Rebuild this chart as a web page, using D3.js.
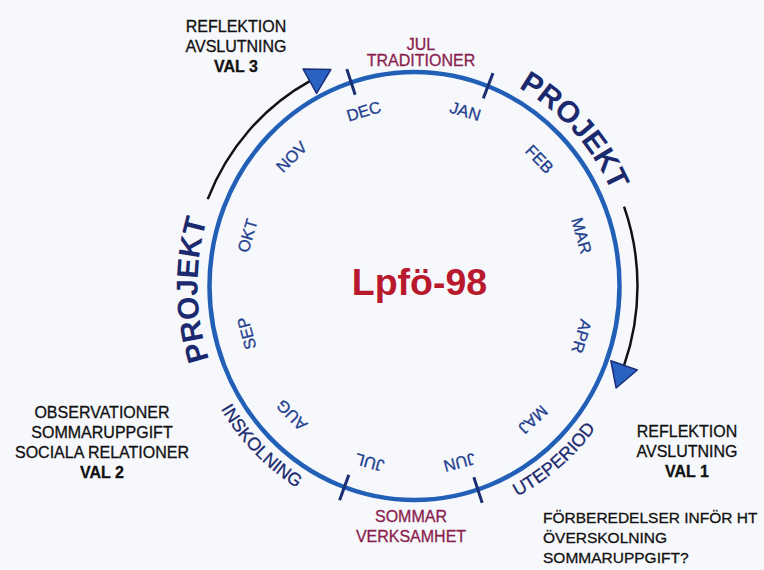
<!DOCTYPE html>
<html>
<head>
<meta charset="utf-8">
<script src="https://cdn.jsdelivr.net/npm/d3@7"></script>
<style>
  body { margin: 0; background: #f7f8fc; }
  svg { display: block; font-family: "Liberation Sans", Arial, sans-serif; }
</style>
</head>
<body>
<div id="hjul"></div>
<script>
const W = 764, H = 570;

// månader runt hjulet (vinkel medurs från kl 12, grader)
const months = ["JAN", "FEB", "MAR", "APR", "MAJ", "JUN", "JUL", "AUG", "SEP", "OKT", "NOV", "DEC"];
const monthAngles = [17, 46, 74, 106, 137, 165, 195, 225, 255, 286, 315, 343];

// streck på ringen
const tickAngles = [-18, 21, 162, 200];

// perioder utanför ringen
const periodNames = ["PROJEKT", "PROJEKT", "INSKOLNING", "UTEPERIOD"];
const periodAngles = [-91, 46, 224, 141];
const periodBold = [true, true, false, false];
const periodBottom = [false, false, true, true];

// pilar (start, slut)
const arrowFrom = [-68, 70];
const arrowTo = [-28, 110];

// texter
const notes = [
  {lines: ["REFLEKTION", "AVSLUTNING", "VAL 3"], x: 236, y: 31.5, anchor: "middle", color: "#111"},
  {lines: ["JUL", "TRADITIONER"], x: 421, y: 49.5, anchor: "middle", color: "#8a1f4e", step: 16},
  {lines: ["OBSERVATIONER", "SOMMARUPPGIFT", "SOCIALA RELATIONER", "VAL 2"], x: 102, y: 418, anchor: "middle", color: "#111"},
  {lines: ["REFLEKTION", "AVSLUTNING", "VAL 1"], x: 687, y: 436.5, anchor: "middle", color: "#111"},
  {lines: ["SOMMAR", "VERKSAMHET"], x: 411, y: 521.5, anchor: "middle", color: "#8a1f4e"},
  {lines: ["FÖRBEREDELSER INFÖR HT", "ÖVERSKOLNING", "SOMMARUPPGIFT?"], x: 543, y: 523, anchor: "start", color: "#111", size: 15.5}
];

const cx = 414.5, cy = 286, rx = 205, ry = 214;
const rad = d3.scaleLinear().domain([0, 360]).range([0, 2 * Math.PI]);

function pt(a, off) {
  const t = rad(a);
  return [cx + (rx + off) * Math.sin(t), cy - (ry + off) * Math.cos(t)];
}
function arcPath(a0, a1, off, cw) {
  const p0 = pt(a0, off), p1 = pt(a1, off);
  const big = Math.abs(a1 - a0) > 180 ? 1 : 0;
  return `M${p0[0]},${p0[1]} A${rx + off},${ry + off} 0 ${big} ${cw ? 1 : 0} ${p1[0]},${p1[1]}`;
}

const svg = d3.select("#hjul").append("svg")
  .attr("width", W)
  .attr("height", H);

const defs = svg.append("defs");

// ringen
svg.append("ellipse")
  .attr("cx", cx).attr("cy", cy)
  .attr("rx", rx).attr("ry", ry)
  .attr("fill", "none")
  .attr("stroke", "#2260b8")
  .attr("stroke-width", 4.5);

// streck
svg.selectAll(".tick")
  .data(tickAngles)
  .enter()
  .append("line")
    .attr("class", "tick")
    .attr("x1", d => pt(d, -13)[0]).attr("y1", d => pt(d, -13)[1])
    .attr("x2", d => pt(d, 14)[0]).attr("y2", d => pt(d, 14)[1])
    .attr("stroke", "#1b2f72")
    .attr("stroke-width", 3);

// månader
svg.selectAll(".month")
  .data(months)
  .enter()
  .append("text")
    .attr("class", "month")
    .attr("transform", (d, i) => {
      const p = pt(monthAngles[i], -31);
      return `translate(${p[0]},${p[1]}) rotate(${monthAngles[i]})`;
    })
    .attr("text-anchor", "middle")
    .attr("dominant-baseline", "central")
    .attr("font-size", 16.5)
    .attr("fill", "#1f3f8f")
    .attr("stroke", "#1f3f8f")
    .attr("stroke-width", 0.3)
    .text(d => d);

// pilar
const arrows = svg.selectAll(".arrow")
  .data(arrowFrom)
  .enter()
  .append("g")
    .attr("class", "arrow");

arrows.append("path")
  .attr("d", (d, i) => arcPath(d, arrowTo[i], 18, true))
  .attr("fill", "none")
  .attr("stroke", "#111")
  .attr("stroke-width", 2.5);

arrows.append("path")
  .attr("d", "M0,-14 L24,0 L0,14 Z")
  .attr("transform", (d, i) => {
    const a = arrowTo[i], t = rad(a);
    const p = pt(a, 18);
    const dir = Math.atan2((ry + 18) * Math.sin(t), (rx + 18) * Math.cos(t)) * 180 / Math.PI;
    return `translate(${p[0]},${p[1]}) rotate(${dir})`;
  })
  .attr("fill", "#2a62c2")
  .attr("stroke", "#1b2f7a")
  .attr("stroke-width", 1.5)
  .attr("stroke-linejoin", "round");

// periodtexter längs ringen
periodNames.forEach((name, i) => {
  const a = periodAngles[i];
  const id = "period" + i;
  const d = periodBottom[i]
    ? arcPath(a + 70, a - 70, 22, false)
    : arcPath(a - 70, a + 70, 12, true);
  defs.append("path").attr("id", id).attr("d", d);
  svg.append("text")
    .attr("font-size", periodBold[i] ? 30 : 18)
    .attr("font-weight", periodBold[i] ? "bold" : "normal")
    .attr("fill", "#1b2a6e")
    .attr("stroke", "#1b2a6e")
    .attr("stroke-width", periodBold[i] ? 0 : 0.3)
    .append("textPath")
      .attr("href", "#" + id)
      .attr("startOffset", "50%")
      .attr("text-anchor", "middle")
      .text(name);
});

// mitten
svg.append("text")
  .attr("x", cx + 5)
  .attr("y", 295)
  .attr("text-anchor", "middle")
  .attr("font-size", 37.5)
  .attr("font-weight", "bold")
  .attr("fill", "#b8192c")
  .text("Lpfö-98");

// anteckningar
notes.forEach(n => {
  const t = svg.append("text")
    .attr("text-anchor", n.anchor)
    .attr("font-size", n.size || 16)
    .attr("fill", n.color)
    .attr("stroke", n.color)
    .attr("stroke-width", 0.3);
  n.lines.forEach((line, j) => {
    t.append("tspan")
      .attr("x", n.x)
      .attr("y", n.y + j * (n.step || 20))
      .attr("font-weight", line.startsWith("VAL") ? "bold" : "normal")
      .text(line);
  });
});
</script>
</body>
</html>
